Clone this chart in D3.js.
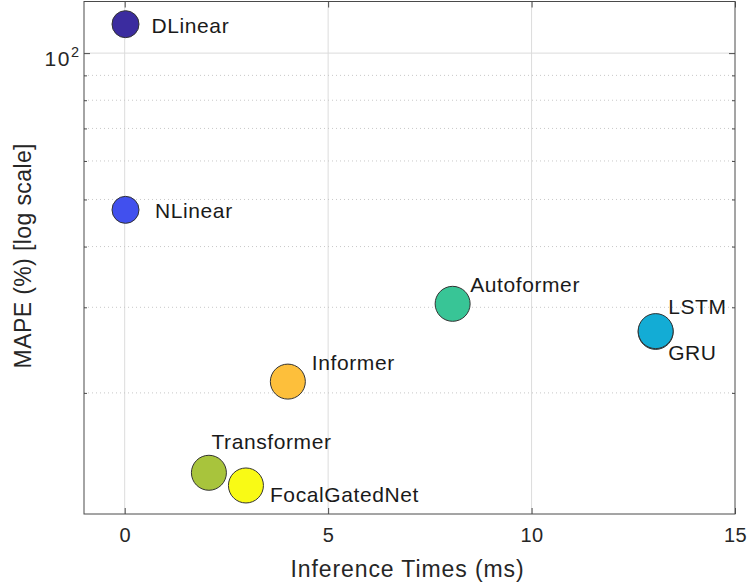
<!DOCTYPE html>
<html>
<head>
<meta charset="utf-8">
<script src="https://cdn.jsdelivr.net/npm/d3@7"></script>
<style>
body { margin: 0; background: #fff; }
text { font-family: "Liberation Sans", Arial, Helvetica, sans-serif; }
</style>
</head>
<body>
<svg id="chart" width="749" height="588"></svg>
<script>
// data
const models = ["DLinear", "NLinear", "Transformer", "FocalGatedNet", "Informer", "Autoformer", "GRU", "LSTM"];
const inferenceMs = [0.02, 0.02, 2.07, 2.98, 4.01, 8.06, 13.05, 13.05];
const mapePct = [114.7, 47.6, 13.7, 12.9, 21.1, 30.5, 26.7, 26.8];

const xTicks = [0, 5, 10, 15];
const yMajor = [100];
const yMinor = [20, 30, 40, 50, 60, 70, 80, 90];

// style: parula-like colours, marker radius, label nudges (px)
const colors = ["#3b2c9f", "#4150ee", "#a8c43c", "#f9fa15", "#fdbf3b", "#38c596", "#13acd5", "#13acd5"];
const radius = [13.5, 13.5, 17.5, 17.5, 17.5, 17.5, 17.5, 17.5];
const labelOffsets = [[26, 9], [29.5, 8.5], [2.5, -24], [24, 17], [24, -11.5], [17.5, -11.5], [12.5, 28], [12.5, -17.5]];

const margin = {top: 1.5, right: 14, bottom: 74, left: 84};
const width = 749 - margin.left - margin.right;
const height = 588 - margin.top - margin.bottom;

const svg = d3.select("#chart");
const g = svg.append("g").attr("transform", `translate(${margin.left},${margin.top})`);

const x = d3.scaleLinear().domain([-1, 15]).range([0, width]);
const y = d3.scaleLog().domain([11.27, 127.7]).range([height, 0]);

//grid
g.selectAll(".vgrid").data(xTicks.filter(d => d < 15)).join("line")
    .attr("x1", d => x(d)).attr("x2", d => x(d))
    .attr("y1", 0).attr("y2", height)
    .attr("stroke", "#dcdcdc").attr("stroke-width", 1);
g.selectAll(".hgrid").data(yMajor).join("line")
    .attr("x1", 0).attr("x2", width)
    .attr("y1", d => y(d)).attr("y2", d => y(d))
    .attr("stroke", "#dcdcdc").attr("stroke-width", 1);
g.selectAll(".mgrid").data(yMinor).join("line")
    .attr("x1", 0).attr("x2", width)
    .attr("y1", d => y(d)).attr("y2", d => y(d))
    .attr("stroke", "#c8c8c8").attr("stroke-width", 1)
    .attr("stroke-dasharray", "1,3");

// axes (ticks inward, box on)
const axisColor = "#4a4a4a";
const xAxis = g.append("g").attr("transform", `translate(0,${height})`)
    .call(d3.axisBottom(x).tickValues(xTicks).tickSize(-6).tickPadding(14).tickSizeOuter(0));
g.append("g")
    .call(d3.axisTop(x).tickValues(xTicks).tickSize(-6).tickFormat("").tickSizeOuter(0));
g.append("g")
    .call(d3.axisLeft(y).tickValues(yMinor).tickSize(-3).tickFormat("").tickSizeOuter(0));
g.append("g").attr("transform", `translate(${width},0)`)
    .call(d3.axisRight(y).tickValues(yMinor).tickSize(-3).tickFormat("").tickSizeOuter(0));
const yAxis = g.append("g")
    .call(d3.axisLeft(y).tickValues(yMajor).tickSize(-6).tickFormat("").tickSizeOuter(0));
g.append("g").attr("transform", `translate(${width},0)`)
    .call(d3.axisRight(y).tickValues(yMajor).tickSize(-6).tickFormat("").tickSizeOuter(0));

g.selectAll(".domain").remove();
g.selectAll(".tick line").attr("stroke", axisColor);
xAxis.selectAll("text").attr("font-size", 20).attr("fill", "#262626")
    .attr("letter-spacing", 0.5)
    .attr("font-family", "Liberation Sans, Arial, sans-serif");

// 10^2 label
yAxis.selectAll(".tick").each(function(d) {
    const t = d3.select(this).append("text")
        .attr("x", -5).attr("y", 12.5)
        .attr("text-anchor", "end")
        .attr("fill", "#262626")
        .attr("font-size", 21);
    t.append("tspan").attr("letter-spacing", 1.5).text("10");
    t.append("tspan").attr("dy", -9.5).attr("font-size", 14.5).text(Math.round(Math.log10(d)));
});

g.append("rect")
    .attr("x", 0).attr("y", 0).attr("width", width).attr("height", height)
    .attr("fill", "none").attr("stroke", axisColor).attr("stroke-width", 1);

// points
const idx = d3.range(models.length);
g.selectAll(".pt").data(idx).join("circle")
    .attr("cx", i => x(inferenceMs[i]))
    .attr("cy", i => y(mapePct[i]))
    .attr("r", i => radius[i])
    .attr("fill", i => colors[i])
    .attr("stroke", "#333")
    .attr("stroke-width", 1);

g.selectAll(".lbl").data(idx).join("text")
    .attr("x", i => x(inferenceMs[i]) + labelOffsets[i][0])
    .attr("y", i => y(mapePct[i]) + labelOffsets[i][1])
    .attr("font-size", 21)
    .attr("letter-spacing", 0.6)
    .attr("fill", "#1a1a1a")
    .text(i => models[i]);

// axis titles
svg.append("text")
    .attr("x", margin.left + width / 2 - 2).attr("y", 577)
    .attr("text-anchor", "middle")
    .attr("font-size", 23).attr("fill", "#262626")
    .attr("letter-spacing", 0.9)
    .text("Inference Times (ms)");
svg.append("text")
    .attr("transform", `translate(31,${margin.top + height / 2 - 2}) rotate(-90)`)
    .attr("text-anchor", "middle")
    .attr("font-size", 23).attr("fill", "#262626")
    .attr("letter-spacing", 0.4)
    .text("MAPE (%) [log scale]");
</script>
</body>
</html>
